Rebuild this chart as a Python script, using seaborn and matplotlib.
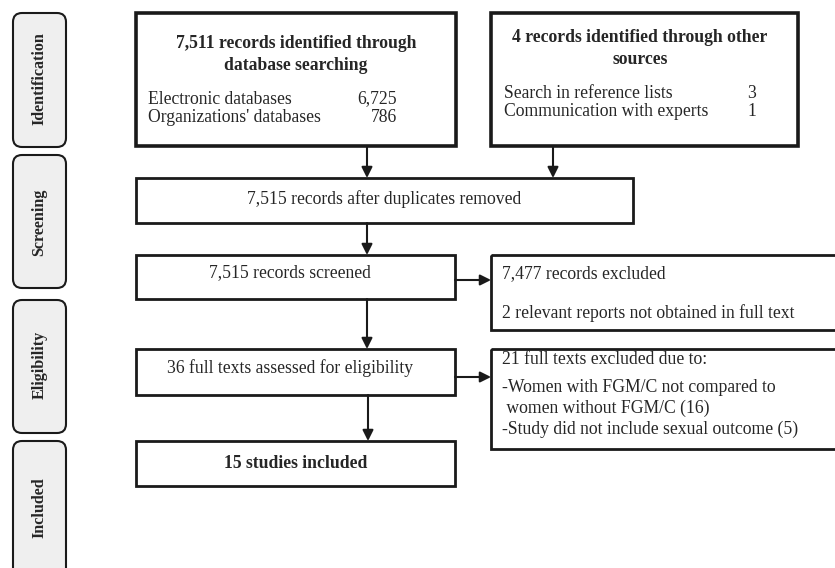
import numpy as np
import pandas as pd
import seaborn as sns
import matplotlib
matplotlib.use("Agg")
import matplotlib.pyplot as plt
from matplotlib.patches import Rectangle, FancyBboxPatch

# --- data ---
stages = ["Identification", "Screening", "Eligibility", "Included"]

db_sources = ["Electronic databases", "Organizations' databases"]
db_counts = [6725, 786]
other_sources = ["Search in reference lists", "Communication with experts"]
other_counts = [3, 1]

after_duplicates = 7515
screened = 7515
records_excluded = 7477
not_obtained = 2
full_texts = 36
excluded_reasons = ["-Women with FGM/C not compared to",
                    " women without FGM/C (16)",
                    "-Study did not include sexual outcome (5)"]
full_texts_excluded = 21
studies_included = 15

sns.set_theme(style="white")
plt.rcParams['font.family'] = ['Liberation Serif', 'DejaVu Serif']

fig = plt.figure(figsize=(8.35, 5.68), dpi=100)
ax = fig.add_axes([0, 0, 1, 1])
ax.set_xlim(0, 835)
ax.set_ylim(568, 0)
ax.axis("off")

FS = 12.7
SIDE_FS = 11.6


def box(x0, y0, x1, y1, lw=2.0):
    ax.add_patch(Rectangle((x0, y0), x1 - x0, y1 - y0, fill=False,
                           edgecolor="#1a1a1a", linewidth=lw, zorder=2))


def arrow(x0, y0, x1, y1):
    ax.annotate("", xy=(x1, y1), xytext=(x0, y0),
                arrowprops=dict(arrowstyle="-|>", color="#1a1a1a", lw=1.5,
                                mutation_scale=16, shrinkA=0, shrinkB=0),
                zorder=3)


# side stage boxes
side_y = [(13, 147), (155, 288), (300, 433), (441, 600)]
label_y = [79, 222, 365, 508]
for name, (y0, y1), cy in zip(stages, side_y, label_y):
    ax.add_patch(FancyBboxPatch((13, y0), 53, y1 - y0,
                                boxstyle="round,pad=0,rounding_size=9",
                                facecolor="#efefef", edgecolor="#1a1a1a",
                                linewidth=1.5, zorder=2))
    ax.text(39.5, cy, name, rotation=90, ha="center", va="center",
            fontsize=SIDE_FS, fontweight="bold", zorder=4)

# identification boxes
box(136, 13, 456, 146, lw=2.6)
ax.text(296, 43, f"{sum(db_counts):,} records identified through",
        ha="center", va="center", fontsize=FS, fontweight="bold")
ax.text(296, 65, "database searching", ha="center", va="center",
        fontsize=FS, fontweight="bold")
for i, (src, n) in enumerate(zip(db_sources, db_counts)):
    ax.text(148, 99 + 18.5 * i, src, ha="left", va="center", fontsize=FS)
    ax.text(397, 99 + 18.5 * i, f"{n:,}", ha="right", va="center", fontsize=FS)

box(491, 13, 798, 146, lw=2.6)
ax.text(640, 38, f"{sum(other_counts)} records identified through other",
        ha="center", va="center", fontsize=FS, fontweight="bold")
ax.text(640, 60, "sources", ha="center", va="center", fontsize=FS,
        fontweight="bold")
for i, (src, n) in enumerate(zip(other_sources, other_counts)):
    ax.text(504, 93 + 19 * i, src, ha="left", va="center", fontsize=FS)
    ax.text(756, 93 + 19 * i, f"{n}", ha="right", va="center", fontsize=FS)

# screening
box(136, 178, 633, 223)
ax.text(384, 199, f"{after_duplicates:,} records after duplicates removed",
        ha="center", va="center", fontsize=FS)
box(136, 255, 455, 299)
ax.text(290, 273, f"{screened:,} records screened", ha="center",
        va="center", fontsize=FS)
box(491, 255, 845, 330)
ax.text(502, 274, f"{records_excluded:,} records excluded", ha="left",
        va="center", fontsize=FS)
ax.text(502, 313, f"{not_obtained} relevant reports not obtained in full text",
        ha="left", va="center", fontsize=FS)

# eligibility
box(136, 349, 455, 395)
ax.text(290, 368, f"{full_texts} full texts assessed for eligibility",
        ha="center", va="center", fontsize=FS)
box(491, 349, 845, 449)
ax.text(502, 360, f"{full_texts_excluded} full texts excluded due to:",
        ha="left", va="center", fontsize=FS)
for i, line in enumerate(excluded_reasons):
    ax.text(502, 388 + 20.5 * i, line, ha="left", va="center", fontsize=FS)

# included
box(136, 441, 455, 486)
ax.text(296, 464, f"{studies_included} studies included", ha="center",
        va="center", fontsize=FS, fontweight="bold")

# arrows
arrow(367, 146, 367, 178)
arrow(553, 146, 553, 178)
arrow(367, 223, 367, 255)
arrow(367, 299, 367, 349)
arrow(368, 395, 368, 441)
arrow(455, 280, 491, 280)
arrow(455, 377, 491, 377)

fig.savefig("out.png", dpi=100)
